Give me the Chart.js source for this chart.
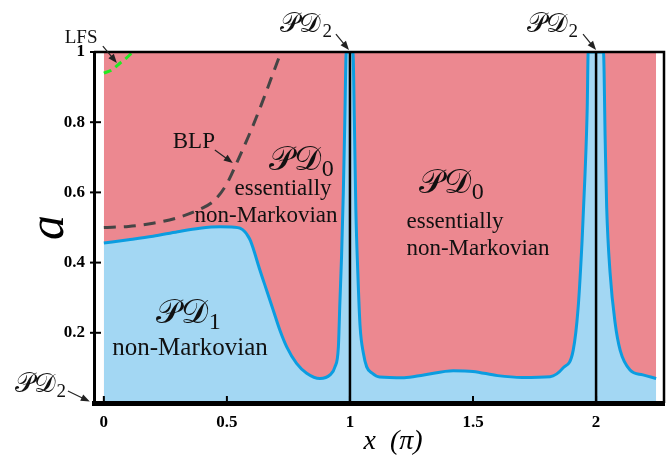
<!DOCTYPE html>
<html>
<head>
<meta charset="utf-8">
<script src="https://cdn.jsdelivr.net/npm/chart.js@4.4.1/dist/chart.umd.min.js"></script>
<style>
  html, body { margin: 0; padding: 0; background: #fff; }
  #wrap { width: 672px; height: 464px; }
</style>
</head>
<body>
<div id="wrap"><canvas id="phase"></canvas></div>
<script>
// tick labels
const xTicks = [0, 0.5, 1, 1.5, 2];
const yTicks = [0.2, 0.4, 0.6, 0.8, 1];

// region PD0 (upper) spans the whole computed range
const pd0X = [0, 2.244];
const pd0Y = [1, 1];

// PD1 / PD0 boundary (blue curve)
const boundX = [0, 0.1, 0.2, 0.3, 0.39, 0.472, 0.53, 0.553, 0.573, 0.587, 0.596, 0.607, 0.634, 0.661, 0.688, 0.715, 0.743, 0.783, 0.824, 0.878, 0.919, 0.939, 0.953, 0.959, 0.966, 0.973, 0.979, 0.985,
  1.012, 1.018, 1.024, 1.032, 1.041, 1.055, 1.068, 1.09, 1.12, 1.22, 1.3, 1.42, 1.5, 1.6, 1.7, 1.813, 1.866, 1.907, 1.927, 1.943, 1.955, 1.964, 1.968,
  2.03, 2.037, 2.043, 2.057, 2.077, 2.098, 2.138, 2.19, 2.244];
const boundY = [0.456, 0.465, 0.475, 0.488, 0.498, 0.502, 0.501, 0.498, 0.488, 0.474, 0.462, 0.44, 0.379, 0.322, 0.265, 0.208, 0.16, 0.113, 0.085, 0.07, 0.08, 0.103, 0.16, 0.285, 0.42, 0.6, 0.8, 1,
  1, 0.8, 0.55, 0.37, 0.22, 0.14, 0.103, 0.085, 0.074, 0.072, 0.08, 0.092, 0.09, 0.078, 0.073, 0.075, 0.1, 0.15, 0.27, 0.46, 0.65, 0.84, 1,
  1, 0.75, 0.56, 0.37, 0.23, 0.15, 0.094, 0.08, 0.07];

// BLP criterion boundary (dashed grey)
const blpX = [0, 0.1, 0.2, 0.3, 0.39, 0.45, 0.5, 0.55, 0.6, 0.64, 0.68, 0.72];
const blpY = [0.5, 0.503, 0.512, 0.528, 0.552, 0.578, 0.625, 0.7, 0.78, 0.85, 0.925, 1.0];

// LFS criterion boundary (dashed green)
const lfsX = [0, 0.03, 0.065, 0.09, 0.118];
const lfsY = [0.94, 0.948, 0.968, 0.982, 1.0];

// PD2 lines at x = pi, 2pi
const pd2Lines = [1, 2];

const pts = (xs, ys) => xs.map((x, i) => ({ x: x, y: ys[i] }));

const PINK = '#ec8890';
const BLUE_FILL = '#a3d7f3';
const BLUE_LINE = '#0b9de0';
const SERIF = '"Liberation Serif", serif';
const CAL_P = '\u{1D4AB}';
const CAL_D = '\u{1D49F}';

Chart.defaults.font.family = SERIF;

function calLabel(ctx, sub, x, y, size) {
  ctx.save();
  ctx.font = size + 'px ' + SERIF;
  ctx.textBaseline = 'alphabetic';
  ctx.textAlign = 'left';
  const main = CAL_P + CAL_D;
  const w = ctx.measureText(main).width;
  ctx.font = Math.round(size * 0.72) + 'px ' + SERIF;
  const ws = ctx.measureText(sub).width;
  const left = x - (w + ws) / 2;
  ctx.font = size + 'px ' + SERIF;
  ctx.fillText(main, left, y);
  ctx.font = Math.round(size * 0.72) + 'px ' + SERIF;
  ctx.fillText(sub, left + w + 1, y + size * 0.18);
  ctx.restore();
}

function arrow(ctx, x1, y1, x2, y2) {
  const a = Math.atan2(y2 - y1, x2 - x1);
  ctx.save();
  ctx.strokeStyle = '#222';
  ctx.fillStyle = '#222';
  ctx.lineWidth = 1.2;
  ctx.beginPath();
  ctx.moveTo(x1, y1);
  ctx.lineTo(x2 - 6 * Math.cos(a), y2 - 6 * Math.sin(a));
  ctx.stroke();
  ctx.beginPath();
  ctx.moveTo(x2, y2);
  ctx.lineTo(x2 - 9 * Math.cos(a) + 3.5 * Math.sin(a), y2 - 9 * Math.sin(a) - 3.5 * Math.cos(a));
  ctx.lineTo(x2 - 9 * Math.cos(a) - 3.5 * Math.sin(a), y2 - 9 * Math.sin(a) + 3.5 * Math.cos(a));
  ctx.closePath();
  ctx.fill();
  ctx.restore();
}

const annotate = {
  id: 'annotate',
  afterDatasetsDraw(chart) {
    const ctx = chart.ctx;
    const xs = chart.scales.x, ys = chart.scales.y;
    const X = v => xs.getPixelForValue(v);
    const Y = v => ys.getPixelForValue(v);
    const area = chart.chartArea;

    // top and right frame
    ctx.save();
    ctx.strokeStyle = '#000';
    ctx.lineWidth = 2.5;
    ctx.beginPath();
    ctx.moveTo(area.left, area.top);
    ctx.lineTo(area.right, area.top);
    ctx.lineTo(area.right, area.bottom);
    ctx.stroke();

    // inward tick marks
    ctx.lineWidth = 2;
    yTicks.forEach(v => {
      ctx.beginPath();
      ctx.moveTo(area.left - 4, Y(v));
      ctx.lineTo(area.left + 7, Y(v));
      ctx.stroke();
    });
    xTicks.forEach(v => {
      ctx.beginPath();
      ctx.moveTo(X(v), area.bottom);
      ctx.lineTo(X(v), area.bottom - 7);
      ctx.stroke();
    });
    ctx.restore();

    // region labels
    ctx.save();
    ctx.fillStyle = '#111';
    calLabel(ctx, '0', X(0.80), Y(0.664), 34);
    calLabel(ctx, '0', X(1.41), Y(0.598), 34);
    calLabel(ctx, '1', X(0.341), Y(0.228), 34);

    ctx.font = '23px ' + SERIF;
    ctx.textAlign = 'center';
    ctx.fillStyle = '#111';
    ctx.fillText('essentially', X(0.728), Y(0.593));
    ctx.fillText('non-Markovian', X(0.659), Y(0.516));
    ctx.fillText('essentially', X(1.427), Y(0.499));
    ctx.fillText('non-Markovian', X(1.52), Y(0.422));
    ctx.font = '25px ' + SERIF;
    ctx.fillText('non-Markovian', X(0.35), Y(0.137));

    ctx.textAlign = 'left';
    ctx.font = '23px ' + SERIF;
    ctx.fillText('BLP', X(0.28), Y(0.726));
    ctx.font = '19px ' + SERIF;
    ctx.fillText('LFS', X(-0.159), Y(1.026));
    ctx.restore();

    arrow(ctx, X(0.451), Y(0.721), X(0.524), Y(0.684));
    arrow(ctx, X(-0.004), Y(1.017), X(0.053), Y(0.969));

    ctx.fillStyle = '#111';
    calLabel(ctx, '2', X(0.82), Y(1.057), 27);
    calLabel(ctx, '2', X(1.82), Y(1.057), 27);
    calLabel(ctx, '2', X(-0.26), Y(0.031), 27);
    arrow(ctx, X(0.943), Y(1.051), X(0.996), Y(1.006));
    arrow(ctx, X(1.947), Y(1.051), X(2.0), Y(1.006));
    arrow(ctx, X(-0.146), Y(0.034), X(-0.057), Y(0.004));
  }
};

const datasets = [
  {
    data: pts(pd0X, pd0Y),
    fill: 'origin',
    backgroundColor: PINK,
    borderWidth: 0,
    pointRadius: 0,
    tension: 0,
    order: 5
  },
  {
    data: pts(boundX, boundY),
    fill: 'origin',
    backgroundColor: BLUE_FILL,
    borderColor: BLUE_LINE,
    borderWidth: 3,
    pointRadius: 0,
    cubicInterpolationMode: 'monotone',
    order: 4
  },
  {
    data: pts(blpX, blpY),
    borderColor: '#454545',
    borderWidth: 3,
    borderDash: [12, 8],
    pointRadius: 0,
    cubicInterpolationMode: 'monotone',
    fill: false,
    order: 3
  },
  {
    data: pts(lfsX, lfsY),
    borderColor: '#22e822',
    borderWidth: 3,
    borderDash: [8, 5],
    pointRadius: 0,
    tension: 0.3,
    fill: false,
    order: 2
  }
];

pd2Lines.forEach(v => {
  datasets.push({
    data: [{ x: v, y: 0 }, { x: v, y: 1 }],
    borderColor: '#000',
    borderWidth: 2.5,
    pointRadius: 0,
    fill: false,
    order: 1
  });
});

new Chart(document.getElementById('phase'), {
  type: 'line',
  data: { datasets: datasets },
  options: {
    responsive: true,
    maintainAspectRatio: false,
    animation: false,
    layout: { padding: { top: 52, right: 8, left: 0, bottom: 0 } },
    plugins: { legend: { display: false }, tooltip: { enabled: false } },
    scales: {
      x: {
        type: 'linear',
        min: -0.04,
        max: 2.276,
        afterBuildTicks: s => { s.ticks = xTicks.map(v => ({ value: v })); },
        afterFit: s => { s.height = 61; },
        grid: { display: false, drawTicks: false },
        border: { display: true, color: '#000', width: 5, z: 1 },
        ticks: {
          color: '#000',
          padding: 9,
          maxRotation: 0,
          font: { family: SERIF, size: 17, weight: 'bold' },
          callback: v => String(v)
        },
        title: {
          display: true,
          text: '    x  (\u03C0)',
          color: '#000',
          padding: { top: 0, bottom: 6 },
          font: { family: SERIF, size: 28, style: 'italic', weight: 'normal' }
        }
      },
      y: {
        type: 'linear',
        min: 0,
        max: 1,
        afterBuildTicks: s => { s.ticks = yTicks.map(v => ({ value: v })); },
        afterFit: s => { s.width = 94; },
        grid: { display: false, drawTicks: false },
        border: { display: true, color: '#000', width: 3, z: 1 },
        ticks: {
          color: '#000',
          padding: 9,
          font: { family: SERIF, size: 17, weight: 'bold' },
          callback: v => String(v)
        },
        title: {
          display: true,
          text: 'a',
          color: '#000',
          padding: { top: 20, bottom: 0 },
          font: { family: SERIF, size: 50, style: 'italic', weight: 'normal' }
        }
      }
    }
  },
  plugins: [annotate]
});
</script>
</body>
</html>
